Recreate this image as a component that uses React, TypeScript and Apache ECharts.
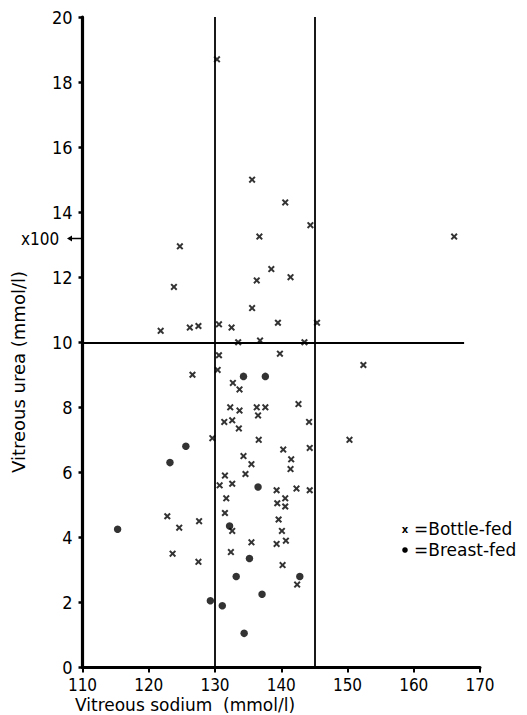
import React, { useEffect, useRef } from "react";
import * as echarts from "echarts";

// Vitreous sodium (mmol/l), vitreous urea (mmol/l)
const bottleFed: [number, number][] = [
  [130.3, 18.7], [135.6, 15.0], [140.6, 14.3], [144.4, 13.6], [136.7, 13.25],
  [124.7, 12.95], [166.1, 13.25], [138.5, 12.25], [136.3, 11.9], [141.4, 12.0],
  [123.8, 11.7], [135.6, 11.05], [139.5, 10.6], [145.4, 10.6], [130.6, 10.55],
  [132.5, 10.45], [127.5, 10.5], [126.2, 10.45], [121.8, 10.35], [133.5, 10.0],
  [136.8, 10.05], [143.5, 10.0], [139.8, 9.65], [130.6, 9.6], [130.4, 9.15],
  [126.6, 9.0], [132.7, 8.75], [133.7, 8.55], [142.6, 8.1], [132.3, 8.0],
  [133.7, 7.9], [136.3, 8.0], [137.6, 8.0], [136.5, 7.75], [131.4, 7.55],
  [132.6, 7.6], [144.2, 7.55], [133.6, 7.35], [129.6, 7.05], [136.6, 7.0],
  [140.3, 6.7], [144.3, 6.75], [152.4, 9.3], [150.3, 7.0], [134.3, 6.5],
  [141.5, 6.4], [135.5, 6.25], [141.4, 6.1], [134.6, 5.95], [131.5, 5.9],
  [132.6, 5.65], [130.7, 5.6], [139.3, 5.45], [142.3, 5.5], [144.3, 5.45],
  [131.7, 5.2], [140.6, 5.2], [139.4, 5.05], [140.6, 4.95], [131.5, 4.75],
  [122.8, 4.65], [127.6, 4.5], [139.6, 4.55], [124.6, 4.3], [132.6, 4.2],
  [140.1, 4.2], [140.7, 3.9], [135.5, 3.85], [139.3, 3.8], [132.4, 3.55],
  [123.6, 3.5], [127.5, 3.25], [140.2, 3.15], [142.4, 2.55],
];

const breastFed: [number, number][] = [
  [134.3, 8.95], [137.6, 8.95], [125.6, 6.8], [123.2, 6.3], [136.5, 5.55],
  [115.3, 4.25], [132.2, 4.35], [135.2, 3.35], [133.2, 2.8], [142.8, 2.8],
  [137.1, 2.25], [129.3, 2.05], [131.1, 1.9], [134.4, 1.05],
];

const sodiumLimits = [130, 145];
const ureaLimit = 10;
const ureaLineEnd = 167.6;

const xTitle = "Vitreous sodium  (mmol/l)";
const yTitle = "Vitreous urea (mmol/l)";
const legendBottle = "=Bottle-fed";
const legendBreast = "=Breast-fed";
const scaleNote = "x100";

const tickFont = '"Liberation Sans Narrow", "DejaVu Sans Condensed", "Liberation Sans", sans-serif';
const titleFont = '"DejaVu Sans", sans-serif';

const crossPath =
  "path://M0,2 L2,0 L5,3 L8,0 L10,2 L7,5 L10,8 L8,10 L5,7 L2,10 L0,8 L3,5 Z";

export default function App() {
  const ref = useRef<HTMLDivElement>(null);
  useEffect(() => {
    document.body.style.margin = "0";
    const chart = echarts.init(ref.current!, null, { renderer: "svg" });
    const ink = "#000";
    chart.setOption({
      animation: false,
      backgroundColor: "#fff",
      grid: { left: 82.5, right: 47, top: 17, bottom: 47.5 },
      xAxis: {
        type: "value",
        min: 110,
        max: 170,
        interval: 10,
        axisLine: { show: true, onZero: false, lineStyle: { color: ink, width: 3 } },
        axisTick: { show: true, length: 5, lineStyle: { color: ink, width: 2 } },
        axisLabel: { color: ink, fontSize: 17, fontFamily: tickFont, margin: 10, lineHeight: 15 },
        splitLine: { show: false },
      },
      yAxis: {
        type: "value",
        min: 0,
        max: 20,
        interval: 2,
        axisLine: { show: true, onZero: false, lineStyle: { color: ink, width: 3.2 } },
        axisTick: { show: true, length: 4, lineStyle: { color: ink, width: 2.5 } },
        axisLabel: { color: ink, fontSize: 18, fontFamily: tickFont, margin: 10 },
        splitLine: { show: false },
      },
      series: [
        {
          name: "Bottle-fed",
          type: "scatter",
          data: bottleFed,
          symbol: crossPath,
          symbolSize: 7,
          itemStyle: { color: ink },
          z: 3,
          markLine: {
            silent: true,
            symbol: "none",
            label: { show: false },
            lineStyle: { color: ink, width: 1.8, type: "solid" },
            data: [
              ...sodiumLimits.map((s) => [{ coord: [s, 0] }, { coord: [s, 20] }]),
              [{ coord: [110, ureaLimit] }, { coord: [ureaLineEnd, ureaLimit] }],
            ],
          },
        },
        {
          name: "Breast-fed",
          type: "scatter",
          data: breastFed,
          symbol: "circle",
          symbolSize: 7.5,
          itemStyle: { color: ink },
          z: 3,
        },
      ],
      graphic: [
        {
          type: "text",
          x: 75,
          y: 705,
          style: { text: xTitle, fill: ink, font: `17px ${titleFont}`, verticalAlign: "middle", lineHeight: 14 },
        },
        {
          type: "text",
          x: 18,
          y: 372,
          rotation: Math.PI / 2,
          style: {
            text: yTitle,
            fill: ink,
            font: `18px ${titleFont}`,
            align: "center",
            verticalAlign: "middle",
          },
        },
        {
          type: "text",
          x: 21,
          y: 239,
          style: { text: scaleNote, fill: ink, font: `17px ${tickFont}`, verticalAlign: "middle" },
        },
        {
          type: "line",
          shape: { x1: 70, y1: 238.5, x2: 82, y2: 238.5 },
          style: { stroke: ink, lineWidth: 1.5 },
        },
        {
          type: "polygon",
          shape: { points: [[67, 238.5], [72, 235.5], [72, 241.5]] },
          style: { fill: ink },
        },
        {
          type: "text",
          x: 405,
          y: 529,
          style: { text: "x", fill: ink, font: `bold 10px ${titleFont}`, align: "center", verticalAlign: "middle" },
        },
        {
          type: "text",
          x: 414,
          y: 529,
          style: { text: legendBottle, fill: ink, font: `17px ${titleFont}`, verticalAlign: "middle" },
        },
        {
          type: "circle",
          shape: { cx: 405, cy: 550, r: 2.8 },
          style: { fill: ink },
        },
        {
          type: "text",
          x: 414,
          y: 550,
          style: { text: legendBreast, fill: ink, font: `17px ${titleFont}`, verticalAlign: "middle" },
        },
      ],
    });
    return () => chart.dispose();
  }, []);
  return <div ref={ref} style={{ width: 527, height: 715 }} />;
}
